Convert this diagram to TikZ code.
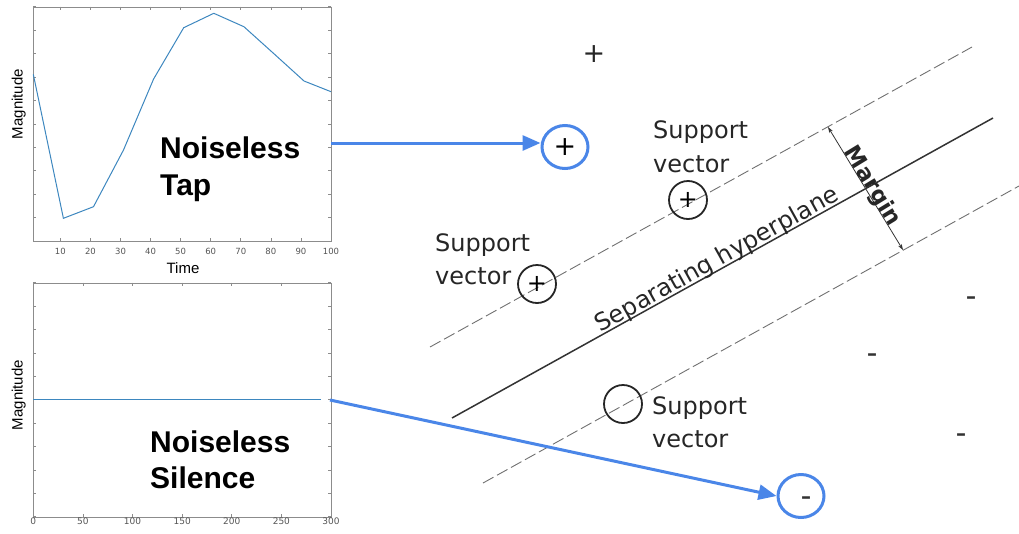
\documentclass[tikz,border=0pt]{standalone}
\usepackage{fontspec}
\setmainfont{DejaVu Sans}
\newfontfamily\arialf{Liberation Sans}
\usetikzlibrary{shapes.geometric, arrows.meta}
\definecolor{gblue}{HTML}{4A86E8}
\definecolor{plotline}{HTML}{3D87BF}
\definecolor{framegray}{HTML}{8C8C8C}
\definecolor{ticklab}{HTML}{555555}
\definecolor{dashgray}{HTML}{707070}
\begin{document}
\begin{tikzpicture}[x=1pt,y=-1pt,
  frame/.style={draw=framegray, line width=0.8pt, inner sep=0pt, anchor=north west},
  tick/.style={draw=framegray, line width=0.6pt},
  ticklabel/.style={font=\fontsize{8.5}{10}\selectfont, text=ticklab, inner sep=0pt},
  axlabel/.style={font=\arialf\fontsize{15}{18}\selectfont, inner sep=0pt},
  bigtext/.style={font=\arialf\bfseries\fontsize{30}{36.7}\selectfont, align=left, inner sep=0pt, anchor=north west},
  svtext/.style={font=\fontsize{24}{33.4}\selectfont, align=left, inner sep=0pt, anchor=north west, text=black!85},
  svcircle/.style={circle, draw=black!85, line width=1.8pt, minimum size=38pt, inner sep=0pt, font=\fontsize{24}{24}\selectfont},
  bluecircle/.style={ellipse, draw=gblue, line width=3pt, minimum width=46pt, minimum height=43pt, inner sep=0pt, font=\fontsize{27}{27}\selectfont},
  bluearrow/.style={draw=gblue, line width=3pt, -{Triangle[length=18pt,width=15pt]}},
  marginline/.style={draw=dashgray, line width=0.9pt, dash pattern=on 12pt off 4pt},
  plusmark/.style={inner sep=0pt, font=\fontsize{27}{27}\selectfont, text=black!85},
  minusmark/.style={inner sep=0pt, anchor=base, font=\bfseries\fontsize{20}{20}\selectfont, text=black!80},
  datastyle/.style={draw=plotline, line width=1pt}
]
\useasboundingbox (0,0) rectangle (1019,533);

% ---------------- top plot ----------------
\node[frame, minimum width=297.7pt, minimum height=234.3pt] (plotA) at (33.3,6.7) {};
\foreach \k in {0,...,10} {
  \draw[tick] (33.3,6.7+\k*23.43) -- ++(3,0);
  \draw[tick] (331,6.7+\k*23.43) -- ++(-3,0);
}
\foreach \v in {10,20,...,100} {
  \pgfmathsetmacro{\px}{33.3+(\v-1)*3.007}
  \draw[tick] (\px,241) -- ++(0,-3);
  \draw[tick] (\px,6.7) -- ++(0,3);
  \node[ticklabel] (tA\v) at (\px,251) {\v};
}
\draw[datastyle] plot coordinates {(33.3,74.3) (63.4,218.3) (93.5,206.7) (123.5,150) (153.6,79) (183.7,27.7) (213.8,13.3) (243.9,26.7) (273.9,53.7) (304,81) (331,91.7)};
\node[axlabel] (timeA) at (183,268) {Time};
\node[axlabel, rotate=90] (magA) at (18.8,104) {Magnitude};
\node[bigtext] (tap) at (160,136.8) {Noiseless\\Tap};

% ---------------- bottom plot ----------------
\node[frame, minimum width=297.7pt, minimum height=234pt] (plotB) at (33.3,282.7) {};
\foreach \k in {0,...,10} {
  \draw[tick] (33.3,282.7+\k*23.4) -- ++(3,0);
  \draw[tick] (331,282.7+\k*23.4) -- ++(-3,0);
}
\foreach \v in {0,50,...,300} {
  \pgfmathsetmacro{\px}{33.3+\v*0.9923}
  \draw[tick] (\px,516.7) -- ++(0,-3);
  \draw[tick] (\px,282.7) -- ++(0,3);
  \node[ticklabel, font=\fontsize{9}{10}\selectfont] (tB\v) at (\px,521.5) {\v};
}
\draw[datastyle] (33.3,399.3) -- (320.7,399.3);
\node[axlabel, rotate=90] (magB) at (18.8,395) {Magnitude};
\node[bigtext] (silence) at (150,430.2) {Noiseless\\Silence};

% ---------------- SVM figure ----------------
\coordinate (upA) at (430,347);  \coordinate (upB) at (972,47);
\coordinate (midA) at (452,418); \coordinate (midB) at (993,118);
\coordinate (loA) at (483,483);  \coordinate (loB) at (1019,186);
\draw[marginline] (upA) -- (upB);
\draw[marginline] (loA) -- (loB);
\draw[draw=black!80, line width=1.5pt] (midA) -- (midB);

\coordinate (mTop) at (828,127);
\coordinate (mBot) at (903,250);
\draw[draw=black!80, line width=0.8pt, {Stealth[length=6pt,width=4pt]}-{Stealth[length=6pt,width=4pt]}] (mTop) -- (mBot);
\node[font=\bfseries\fontsize{22.5}{24}\selectfont, rotate=-58.6, inner sep=0pt, text=black!85] (margin) at (872,186.5) {Margin};
\node[font=\fontsize{24}{24}\selectfont, rotate=29, anchor=base, inner sep=0pt, text=black!85] (sephyp) at (720.5,266) {Separating hyperplane};

\node[plusmark] (ptop) at (594,54) {+};
\node[bluecircle] (bplus) at (565,147) {+};
\node[svcircle] (sv1) at (688,200) {+};
\node[svcircle] (sv2) at (537,284) {+};
\node[svcircle] (sv3) at (623,404) {};
\node[svtext] (svt1) at (653,120.8) {Support\\vector};
\node[svtext] (svt2) at (435,233.2) {Support\\vector};
\node[svtext] (svt3) at (652,396.5) {Support\\vector};

\node[minusmark] (m1) at (971,303.4) {–};
\node[minusmark] (m2) at (872,360.4) {–};
\node[minusmark] (m3) at (961,440.4) {–};
\node[bluecircle] (bminus) at (801,496) {};
\node[minusmark] (m4) at (806,503.4) {–};

\coordinate (tapout) at (331,143);
\coordinate (silout) at (330,400);
\draw[bluearrow] (tapout) -- (tapout -| bplus.west);
\draw[bluearrow] (silout) -- (bminus.west);
\end{tikzpicture}
\end{document}
